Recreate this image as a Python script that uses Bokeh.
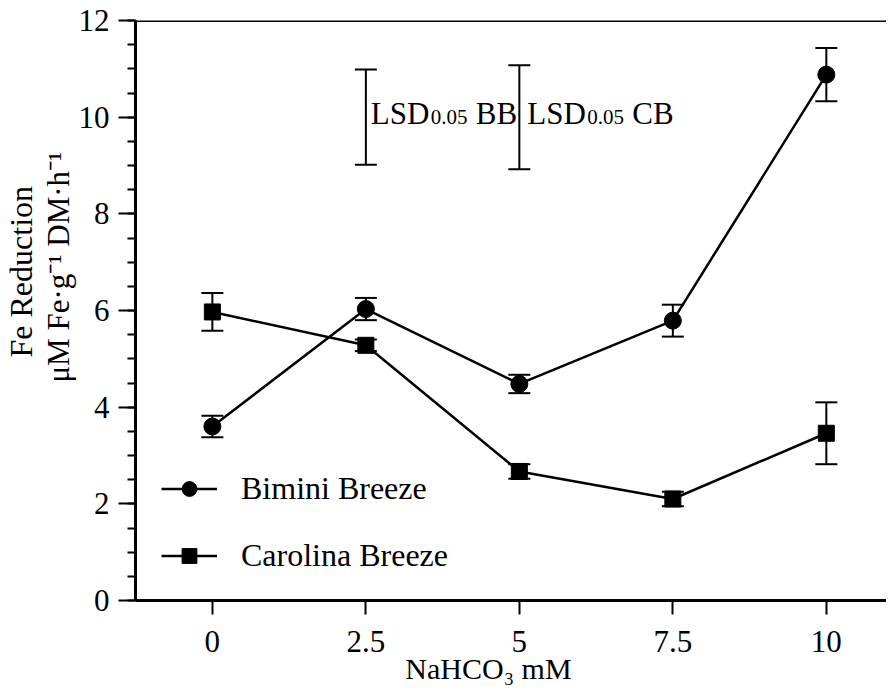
from bokeh.plotting import figure
from bokeh.models import (ColumnDataSource, Whisker, TeeHead, Range1d, FixedTicker,
                          Legend, LegendItem, Label, Span, Title)
from bokeh.embed import file_html
from bokeh.resources import INLINE

# ---------------- data ----------------
nahco3 = [0, 2.5, 5, 7.5, 10]
x_tick_labels = ["0", "2.5", "5", "7.5", "10"]
y_ticks = [0, 2, 4, 6, 8, 10, 12]

bimini = [3.60, 6.03, 4.48, 5.79, 10.88]
bimini_err = [0.22, 0.23, 0.19, 0.33, 0.55]
carolina = [5.97, 5.28, 2.67, 2.10, 3.46]
carolina_err = [0.39, 0.12, 0.15, 0.15, 0.64]

lsd_x = [2.5, 5.0]
lsd_mid = [10.0, 10.0]
lsd_val = [1.97, 2.15]
lsd_names = ["BB", "CB"]

series_names = ["Bimini Breeze", "Carolina Breeze"]
x_title = "NaHCO\u2083 mM"
y_title_1 = "Fe Reduction"
y_title_2 = "\u03bcM Fe\u00b7g\u207b\u00b9 DM\u00b7h\u207b\u00b9"

FONT = "Liberation Serif"
X0, X1 = -1.252, 10.98
Y0, Y1 = 0, 12

p = figure(width=886, height=688, output_backend="svg", toolbar_location=None,
           x_range=Range1d(X0, X1), y_range=Range1d(Y0, Y1),
           min_border_left=134, min_border_right=0, min_border_top=20, min_border_bottom=88)
p.outline_line_color = None
p.grid.visible = False
p.background_fill_color = "white"

# axes
xa = p.xaxis[0]
xa.ticker = FixedTicker(ticks=nahco3)
xa.major_label_overrides = {t: s for t, s in zip(nahco3, x_tick_labels)}
xa.axis_line_width = 3
xa.axis_line_color = "black"
xa.major_tick_in = 0
xa.major_tick_out = 14
xa.major_tick_line_width = 2
xa.major_tick_line_color = "black"
xa.minor_tick_line_color = None
xa.major_label_text_font = FONT
xa.major_label_text_font_size = "31px"
xa.major_label_text_color = "black"
xa.major_label_standoff = 16
# trailing no-break spaces shift the centred label left, as in the original
xa.axis_label = x_title + "\u00a0" * 6
xa.axis_label_standoff = -3
xa.axis_label_text_font = FONT
xa.axis_label_text_font_size = "30px"
xa.axis_label_text_font_style = "normal"
xa.axis_label_text_color = "black"

ya = p.yaxis[0]
ya.ticker = FixedTicker(ticks=y_ticks, minor_ticks=[v / 2 for v in range(0, 25)])
ya.axis_line_width = 3
ya.axis_line_color = "black"
ya.major_tick_in = 0
ya.major_tick_out = 17
ya.minor_tick_in = 0
ya.minor_tick_out = 8
ya.major_tick_line_width = 2
ya.minor_tick_line_width = 2
ya.major_tick_line_color = "black"
ya.minor_tick_line_color = "black"
ya.major_label_text_font = FONT
ya.major_label_text_font_size = "31px"
ya.major_label_text_color = "black"
ya.major_label_standoff = 9

# y axis title lines (left-aligned Title panels, offset up from the frame bottom)
p.add_layout(Title(text=y_title_2, align="left", offset=218, standoff=0,
                   text_font=FONT, text_font_size="31px", text_font_style="normal",
                   text_color="black"), "left")
p.add_layout(Title(text=y_title_1, align="left", offset=243, standoff=0,
                   text_font=FONT, text_font_size="32px", text_font_style="normal",
                   text_color="black"), "left")

# top border line
p.add_layout(Span(location=Y1, dimension="width", line_color="black", line_width=3))

# series
src_b = ColumnDataSource(dict(x=nahco3, y=bimini,
                              lo=[v - e for v, e in zip(bimini, bimini_err)],
                              hi=[v + e for v, e in zip(bimini, bimini_err)]))
src_c = ColumnDataSource(dict(x=nahco3, y=carolina,
                              lo=[v - e for v, e in zip(carolina, carolina_err)],
                              hi=[v + e for v, e in zip(carolina, carolina_err)]))

for src in (src_b, src_c):
    w = Whisker(source=src, base="x", upper="hi", lower="lo", line_width=2, line_color="black",
                upper_head=TeeHead(size=22, line_width=2, line_color="black"),
                lower_head=TeeHead(size=22, line_width=2, line_color="black"))
    p.add_layout(w)

lb = p.line("x", "y", source=src_b, line_color="black", line_width=2.5)
sb = p.scatter("x", "y", source=src_b, marker="circle", size=17, color="black")
lc = p.line("x", "y", source=src_c, line_color="black", line_width=2.5)
sc = p.scatter("x", "y", source=src_c, marker="square", size=16, color="black")

# LSD bars
src_l = ColumnDataSource(dict(x=lsd_x,
                              lo=[m - v / 2 for m, v in zip(lsd_mid, lsd_val)],
                              hi=[m + v / 2 for m, v in zip(lsd_mid, lsd_val)]))
p.add_layout(Whisker(source=src_l, base="x", upper="hi", lower="lo", line_width=2, line_color="black",
                     upper_head=TeeHead(size=22, line_width=2, line_color="black"),
                     lower_head=TeeHead(size=22, line_width=2, line_color="black")))

lsd_start = [5, 8]
for i, (lx, lm, nm) in enumerate(zip(lsd_x, lsd_mid, lsd_names)):
    s = lsd_start[i]
    p.add_layout(Label(x=lx, y=lm, x_offset=s, y_offset=4, text="LSD", text_color="black",
                       text_font=FONT, text_font_size="31px", text_baseline="alphabetic"))
    p.add_layout(Label(x=lx, y=lm, x_offset=s + 60, y_offset=0, text="0.05", text_color="black",
                       text_font=FONT, text_font_size="21px", text_baseline="alphabetic"))
    p.add_layout(Label(x=lx, y=lm, x_offset=s + 105, y_offset=4, text=nm, text_color="black",
                       text_font=FONT, text_font_size="31px", text_baseline="alphabetic"))

# legend
legend = Legend(items=[LegendItem(label=series_names[0], renderers=[lb, sb]),
                       LegendItem(label=series_names[1], renderers=[lc, sc])],
                location=(26, 26), glyph_width=56, glyph_height=37, label_height=37,
                label_standoff=24, spacing=30, padding=0, margin=0,
                border_line_color=None, background_fill_alpha=0,
                label_text_font=FONT, label_text_font_size="32px", label_text_color="black")
p.add_layout(legend)

open("out.html", "w").write(file_html(p, INLINE))
